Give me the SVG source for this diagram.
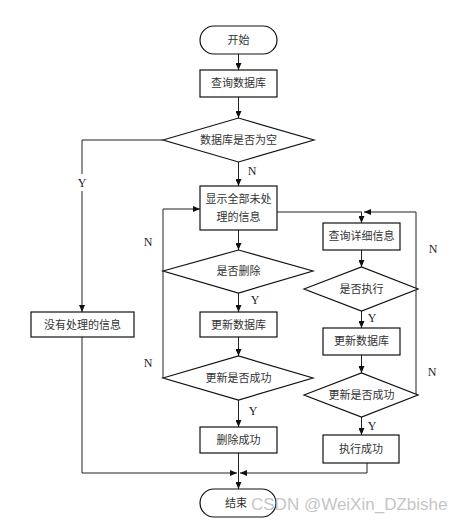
<svg xmlns="http://www.w3.org/2000/svg" width="464" height="523" viewBox="0 0 464 523">
<defs>
<marker id="ah" markerWidth="7" markerHeight="6" refX="7" refY="3" orient="auto" markerUnits="userSpaceOnUse">
<path d="M0,0 L7,3 L0,6 Z" fill="#111"/>
</marker>
<style>
.n rect,.n polygon{fill:#fff;stroke:#111;stroke-width:1.2}
.n text,.lbl{font-family:"Liberation Serif","Noto Sans CJK SC",serif;font-size:11px;fill:#333;text-anchor:middle}
.c path{fill:none;stroke:#222;stroke-width:1}
.lbl{font-size:12px;fill:#222}
</style>
</defs>
<rect width="464" height="523" fill="#fff"/>
<g class="c" id="connectors">
<path d="M238.5 54 V70" marker-end="url(#ah)"/>
<path d="M238.5 97 V118" marker-end="url(#ah)"/>
<path d="M238.5 162 V186" marker-end="url(#ah)"/>
<path d="M163 140 H82 V174 M82 191 V312" marker-end="url(#ah)"/>
<path d="M238.5 230 V250" marker-end="url(#ah)"/>
<path d="M238.5 293 V312" marker-end="url(#ah)"/>
<path d="M238.5 337 V356" marker-end="url(#ah)"/>
<path d="M238.5 400 V427" marker-end="url(#ah)"/>
<path d="M238.5 453 V489" marker-end="url(#ah)"/>
<path d="M163 378 V209 H200" marker-end="url(#ah)"/>
<path d="M82 337 V473 H237" marker-end="url(#ah)"/>
<path d="M367 463 V473 H240" marker-end="url(#ah)"/>
<path d="M277 212 H361.5 V223" marker-end="url(#ah)"/>
<path d="M418 395 H416 V212 H364"  marker-end="url(#ah)"/>
<path d="M361.5 250 V267" marker-end="url(#ah)"/>
<path d="M361.5 311 V328" marker-end="url(#ah)"/>
<path d="M361.5 355 V373" marker-end="url(#ah)"/>
<path d="M361.5 417 V435" marker-end="url(#ah)"/>
<text class="lbl" x="252" y="175">N</text>
<text class="lbl" x="82" y="187">Y</text>
<text class="lbl" x="148" y="246">N</text>
<text class="lbl" x="148" y="367">N</text>
<text class="lbl" x="255" y="304">Y</text>
<text class="lbl" x="253" y="415">Y</text>
<text class="lbl" x="433" y="253">N</text>
<text class="lbl" x="432" y="376">N</text>
<text class="lbl" x="372" y="322">Y</text>
<text class="lbl" x="372" y="430">Y</text>
</g>
<g class="n" id="start"><rect x="200" y="26" width="77" height="28" rx="14"/><text x="238.5" y="44">开始</text></g>
<g class="n" id="query"><rect x="200" y="70" width="77" height="27"/><text x="238.5" y="87">查询数据库</text></g>
<g class="n" id="empty"><polygon points="163,140 238.5,118 314,140 238.5,162"/><text x="238.5" y="144">数据库是否为空</text></g>
<g class="n" id="noinfo"><rect x="31" y="312" width="103" height="25"/><text x="82.5" y="329">没有处理的信息</text></g>
<g class="n" id="show"><rect x="200" y="186" width="77" height="44"/><text x="238.5" y="203">显示全部未处</text><text x="238.5" y="221">理的信息</text></g>
<g class="n" id="del"><polygon points="163,271 238.5,250 313,271 238.5,293"/><text x="238.5" y="275">是否删除</text></g>
<g class="n" id="upd1"><rect x="200" y="312" width="77" height="25"/><text x="238.5" y="329">更新数据库</text></g>
<g class="n" id="ok1"><polygon points="163,378 238.5,356 313,378 238.5,400"/><text x="238.5" y="382">更新是否成功</text></g>
<g class="n" id="delok"><rect x="200" y="427" width="77" height="26"/><text x="238.5" y="444">删除成功</text></g>
<g class="n" id="detail"><rect x="323" y="223" width="77" height="27"/><text x="361.5" y="240">查询详细信息</text></g>
<g class="n" id="exec"><polygon points="304,289 361.5,267 418,289 361.5,311"/><text x="361.5" y="293">是否执行</text></g>
<g class="n" id="upd2"><rect x="323" y="328" width="77" height="27"/><text x="361.5" y="345">更新数据库</text></g>
<g class="n" id="ok2"><polygon points="304,395 361.5,373 418,395 361.5,417"/><text x="361.5" y="399">更新是否成功</text></g>
<g class="n" id="execok"><rect x="323" y="435" width="76" height="28"/><text x="361" y="453">执行成功</text></g>
<g class="n" id="end"><rect x="200" y="489" width="76" height="28" rx="14"/><text x="236" y="507">结束</text></g>
<text x="251" y="510" font-family="Liberation Sans,Arial,sans-serif" font-size="17" fill="#bdbdbd" fill-opacity="0.9">CSDN @WeiXin_DZbishe</text>
</svg>
